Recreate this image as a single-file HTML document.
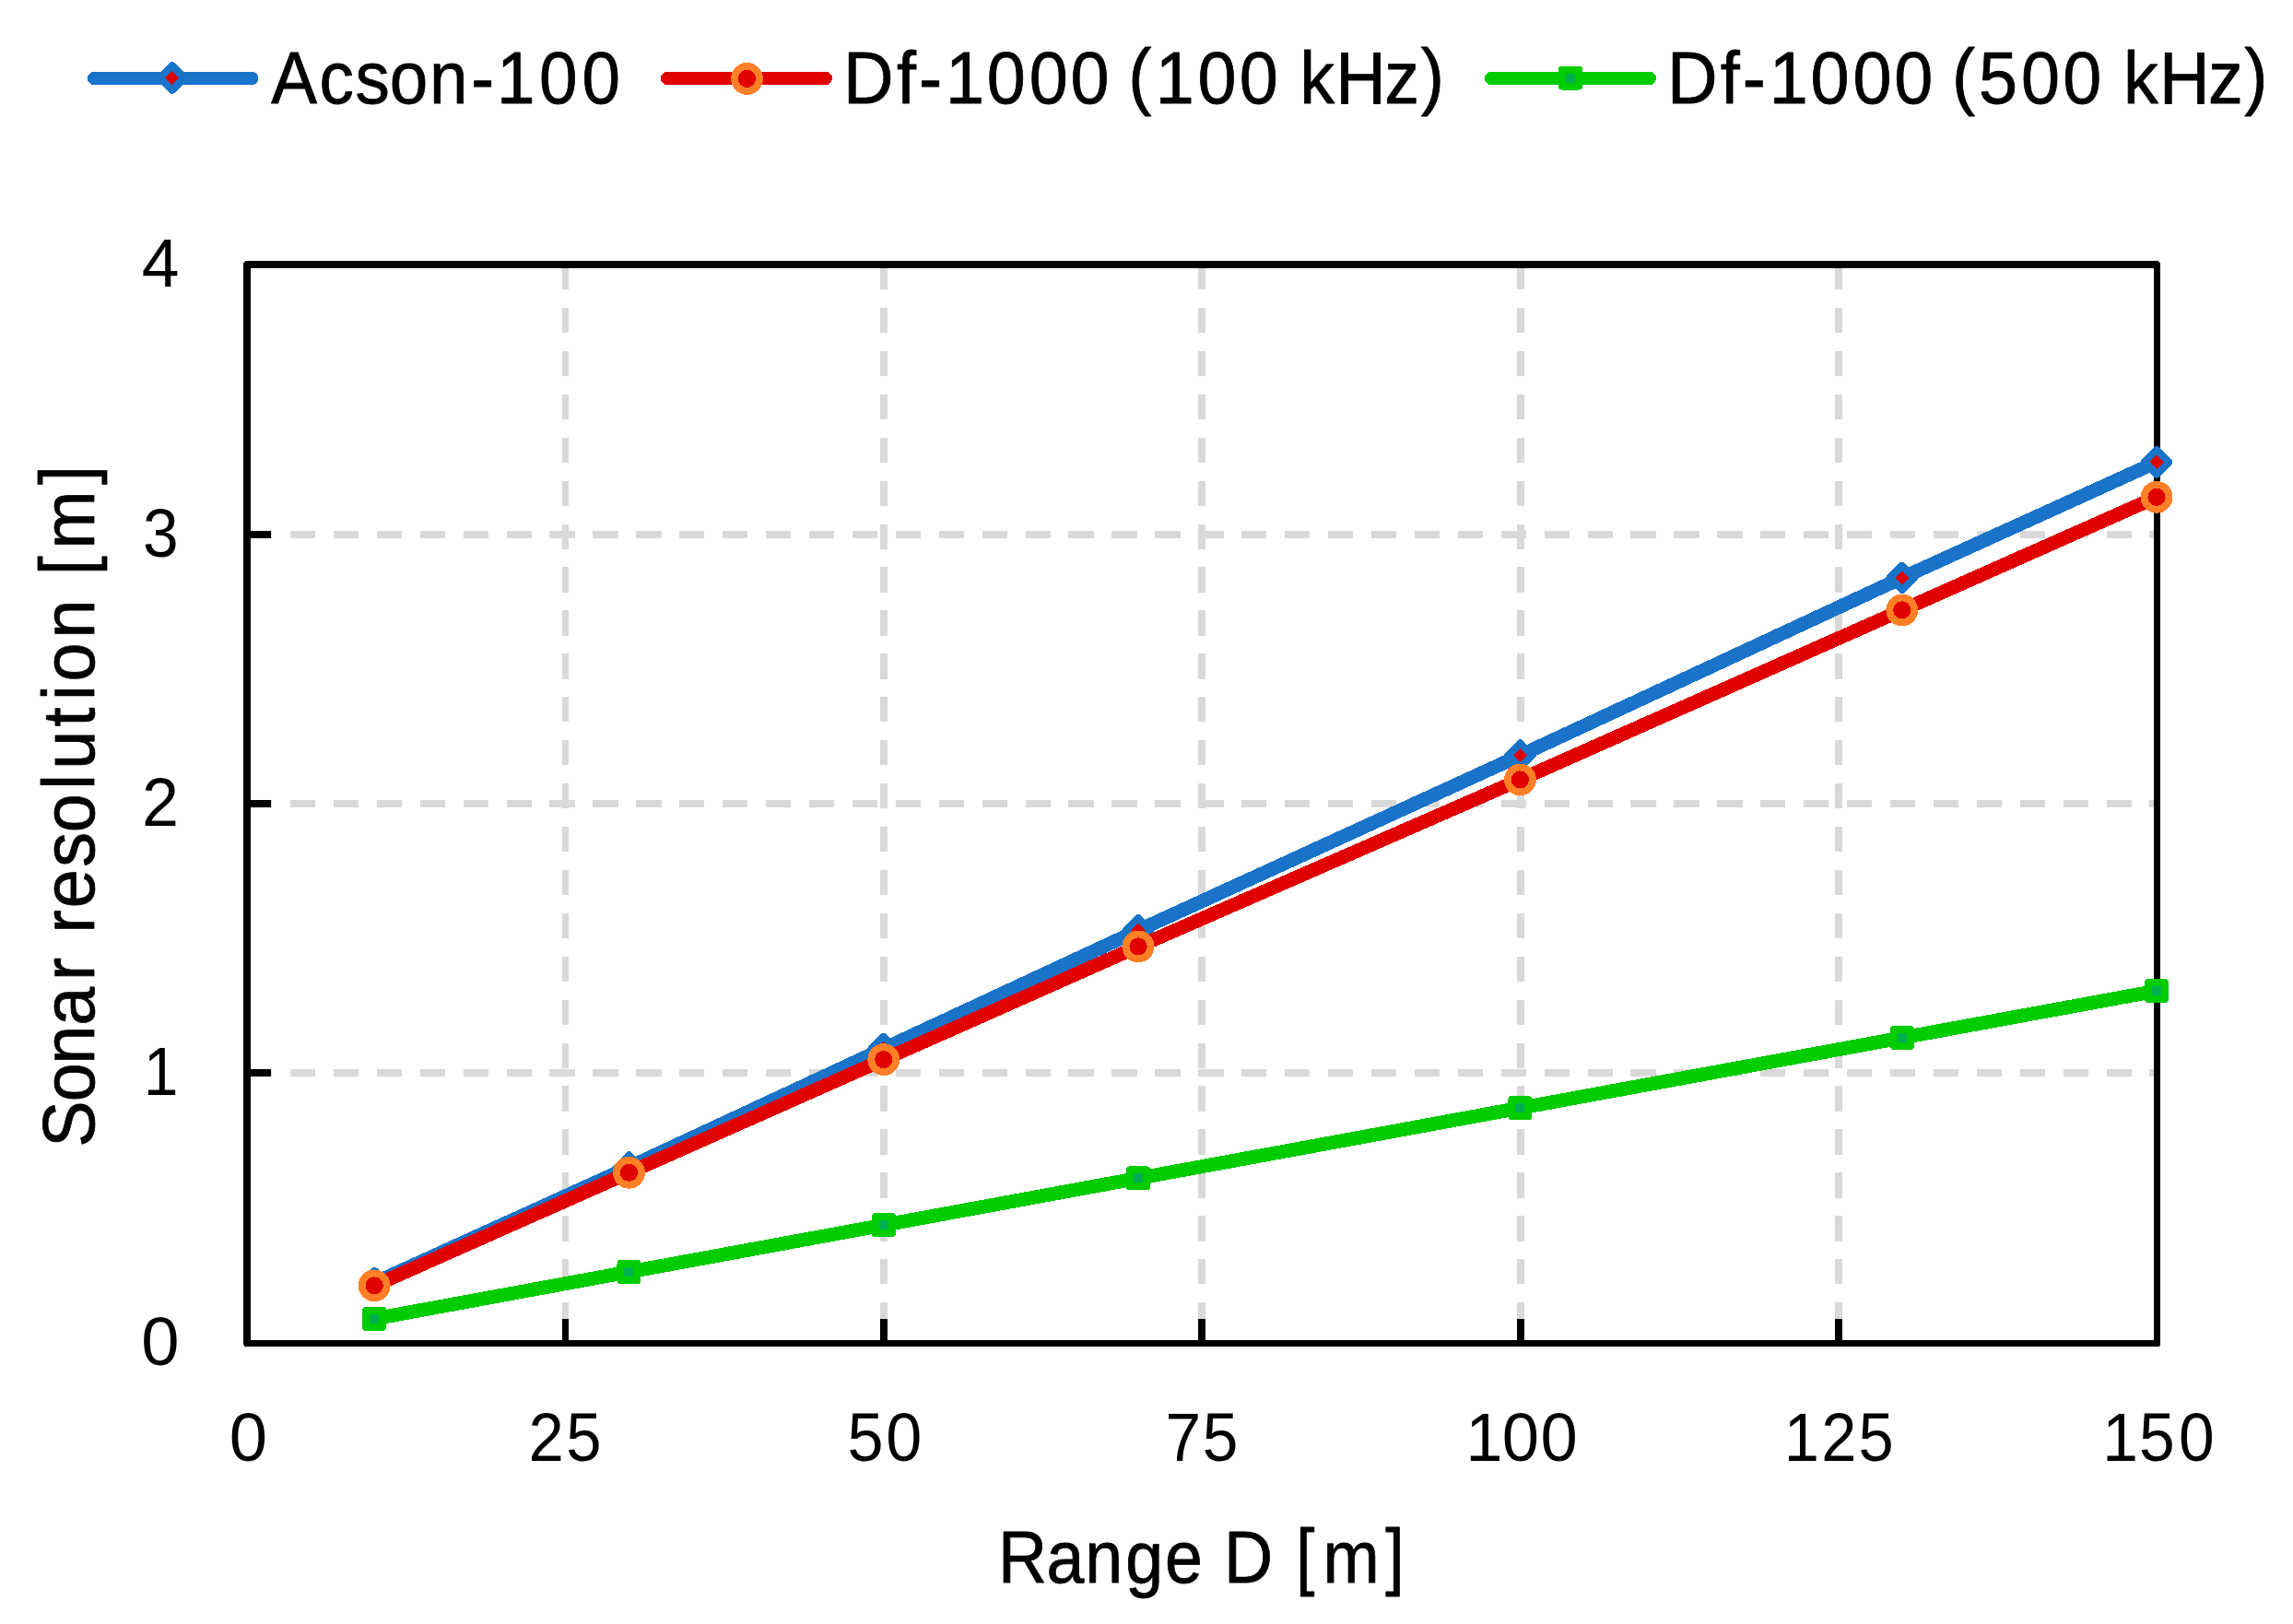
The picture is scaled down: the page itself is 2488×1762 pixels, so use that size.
<!DOCTYPE html>
<html lang="en"><head><meta charset="utf-8"><title>Sonar resolution vs range</title>
<style>html,body{margin:0;padding:0;background:#fff;}body{width:2488px;height:1762px;overflow:hidden;}svg{display:block;}text{font-family:"Liberation Sans",sans-serif;fill:#000;}</style></head><body>
<svg width="2488" height="1762" viewBox="0 0 2488 1762">
<rect x="0" y="0" width="2488" height="1762" fill="#ffffff"/>
<g stroke="#d9d9d9" stroke-dasharray="27.3 19.62" fill="none" shape-rendering="crispEdges">
<line x1="613.5" y1="287.00" x2="613.5" y2="1457.50" stroke-width="7"/>
<line x1="959.0" y1="287.00" x2="959.0" y2="1457.50" stroke-width="8"/>
<line x1="1304.0" y1="287.00" x2="1304.0" y2="1457.50" stroke-width="8"/>
<line x1="1650.0" y1="287.00" x2="1650.0" y2="1457.50" stroke-width="8"/>
<line x1="1995.0" y1="287.00" x2="1995.0" y2="1457.50" stroke-width="8"/>
<line x1="268.00" y1="580.0" x2="2340.50" y2="580.0" stroke-width="8"/>
<line x1="268.00" y1="872.0" x2="2340.50" y2="872.0" stroke-width="8"/>
<line x1="268.00" y1="1164.0" x2="2340.50" y2="1164.0" stroke-width="8"/>
</g>
<g fill="#000" shape-rendering="crispEdges">
<rect x="268" y="287" width="2072.5" height="1170.5" fill="none" stroke="#000" stroke-width="7.5" stroke-linejoin="round"/>
<rect x="610" y="1431" width="7" height="26"/>
<rect x="955" y="1431" width="8" height="26"/>
<rect x="1300" y="1431" width="8" height="26"/>
<rect x="1646" y="1431" width="8" height="26"/>
<rect x="1991" y="1431" width="8" height="26"/>
<rect x="268" y="576" width="26" height="8"/>
<rect x="268" y="868" width="26" height="8"/>
<rect x="268" y="1160" width="26" height="8"/>
</g>
<g shape-rendering="crispEdges">
<polyline points="406.23,1391.96 682.49,1266.40 958.75,1137.92 1235.01,1009.44 1649.40,819.64 2063.79,626.92 2340.05,501.36" fill="none" stroke="#1873c9" stroke-width="15" stroke-linejoin="round" stroke-linecap="round"/>
<path d="M406.23 1378.71 L419.48 1391.96 L406.23 1405.21 L392.98 1391.96Z" fill="#e00000" stroke="#1873c9" stroke-width="7.9" stroke-linejoin="round"/>
<path d="M682.49 1253.15 L695.74 1266.40 L682.49 1279.65 L669.24 1266.40Z" fill="#e00000" stroke="#1873c9" stroke-width="7.9" stroke-linejoin="round"/>
<path d="M958.75 1124.67 L972.00 1137.92 L958.75 1151.17 L945.50 1137.92Z" fill="#e00000" stroke="#1873c9" stroke-width="7.9" stroke-linejoin="round"/>
<path d="M1235.01 996.19 L1248.26 1009.44 L1235.01 1022.69 L1221.76 1009.44Z" fill="#e00000" stroke="#1873c9" stroke-width="7.9" stroke-linejoin="round"/>
<path d="M1649.40 806.39 L1662.65 819.64 L1649.40 832.89 L1636.15 819.64Z" fill="#e00000" stroke="#1873c9" stroke-width="7.9" stroke-linejoin="round"/>
<path d="M2063.79 613.67 L2077.04 626.92 L2063.79 640.17 L2050.54 626.92Z" fill="#e00000" stroke="#1873c9" stroke-width="7.9" stroke-linejoin="round"/>
<path d="M2340.05 488.11 L2353.30 501.36 L2340.05 514.61 L2326.80 501.36Z" fill="#e00000" stroke="#1873c9" stroke-width="7.9" stroke-linejoin="round"/>
</g>
<g shape-rendering="crispEdges">
<polyline points="406.23,1394.88 682.49,1272.24 958.75,1149.60 1235.01,1026.96 1649.40,845.92 2063.79,661.96 2340.05,539.32" fill="none" stroke="#e00000" stroke-width="15" stroke-linejoin="round" stroke-linecap="round"/>
<circle cx="406.23" cy="1394.88" r="13.5" fill="#e00000" stroke="#ff7f27" stroke-width="7.8"/>
<circle cx="682.49" cy="1272.24" r="13.5" fill="#e00000" stroke="#ff7f27" stroke-width="7.8"/>
<circle cx="958.75" cy="1149.60" r="13.5" fill="#e00000" stroke="#ff7f27" stroke-width="7.8"/>
<circle cx="1235.01" cy="1026.96" r="13.5" fill="#e00000" stroke="#ff7f27" stroke-width="7.8"/>
<circle cx="1649.40" cy="845.92" r="13.5" fill="#e00000" stroke="#ff7f27" stroke-width="7.8"/>
<circle cx="2063.79" cy="661.96" r="13.5" fill="#e00000" stroke="#ff7f27" stroke-width="7.8"/>
<circle cx="2340.05" cy="539.32" r="13.5" fill="#e00000" stroke="#ff7f27" stroke-width="7.8"/>
</g>
<g shape-rendering="crispEdges">
<polyline points="406.23,1430.80 682.49,1379.99 958.75,1329.18 1235.01,1278.37 1649.40,1202.16 2063.79,1125.95 2340.05,1075.14" fill="none" stroke="#00cc00" stroke-width="15" stroke-linejoin="round" stroke-linecap="round"/>
<rect x="397.23" y="1421.80" width="18.00" height="18.00" fill="#00b050" stroke="#00cc00" stroke-width="8" stroke-linejoin="round"/>
<rect x="673.49" y="1370.99" width="18.00" height="18.00" fill="#00b050" stroke="#00cc00" stroke-width="8" stroke-linejoin="round"/>
<rect x="949.75" y="1320.18" width="18.00" height="18.00" fill="#00b050" stroke="#00cc00" stroke-width="8" stroke-linejoin="round"/>
<rect x="1226.01" y="1269.37" width="18.00" height="18.00" fill="#00b050" stroke="#00cc00" stroke-width="8" stroke-linejoin="round"/>
<rect x="1640.40" y="1193.16" width="18.00" height="18.00" fill="#00b050" stroke="#00cc00" stroke-width="8" stroke-linejoin="round"/>
<rect x="2054.79" y="1116.95" width="18.00" height="18.00" fill="#00b050" stroke="#00cc00" stroke-width="8" stroke-linejoin="round"/>
<rect x="2331.05" y="1066.14" width="18.00" height="18.00" fill="#00b050" stroke="#00cc00" stroke-width="8" stroke-linejoin="round"/>
</g>
<g shape-rendering="crispEdges">
<line x1="102.00" y1="85.00" x2="273.50" y2="85.00" stroke="#1873c9" stroke-width="14" stroke-linecap="round"/>
<path d="M186.70 71.25 L199.95 84.50 L186.70 97.75 L173.45 84.50Z" fill="#e00000" stroke="#1873c9" stroke-width="7.9" stroke-linejoin="round"/>
<line x1="724.00" y1="85.00" x2="896.00" y2="85.00" stroke="#e00000" stroke-width="14" stroke-linecap="round"/>
<circle cx="810.50" cy="85.40" r="13.5" fill="#e00000" stroke="#ff7f27" stroke-width="7.8"/>
<line x1="1617.80" y1="85.00" x2="1790.00" y2="85.00" stroke="#00cc00" stroke-width="14" stroke-linecap="round"/>
<rect x="1695.00" y="75.50" width="18.00" height="18.00" fill="#00b050" stroke="#00cc00" stroke-width="8" stroke-linejoin="round"/>
</g>
<text transform="scale(0.9328 1)" x="315.5 371.5 413.4 453.3 499.5 548.0 577.9 627.2 676.9" y="112.0 112.0 112.0 112.0 112.0 112.0 112.0 112.0 112.0" font-size="80" stroke="#000" stroke-width="0.8" stroke-linejoin="round">Acson-100</text>
<text transform="scale(0.9444 1)" x="969.0 1030.2 1055.7 1086.3 1133.9 1182.4 1229.9 1274.4 1296.4 1327.5 1375.9 1423.8 1468.3 1493.4 1534.6 1590.7 1632.4" y="112.0 112.0 112.0 112.0 112.0 112.0 112.0 112.0 109.0 112.0 112.0 112.0 112.0 112.0 112.0 112.0 109.0" font-size="80" stroke="#000" stroke-width="0.8" stroke-linejoin="round">Df-1000 (100 kHz)</text>
<text transform="scale(0.9447 1)" x="1914.8 1976.0 2001.4 2032.0 2079.6 2128.1 2175.6 2220.1 2242.0 2272.7 2321.5 2369.4 2413.9 2438.9 2480.2 2536.2 2577.9" y="112.0 112.0 112.0 112.0 112.0 112.0 112.0 112.0 109.0 112.0 112.0 112.0 112.0 112.0 112.0 112.0 109.0" font-size="80" stroke="#000" stroke-width="0.8" stroke-linejoin="round">Df-1000 (500 kHz)</text>
<text transform="scale(1.0035 1)" x="248.0" y="1585.2" font-size="74" >0</text>
<text transform="scale(0.9310 1)" x="616.0 659.8" y="1585.2 1585.2" font-size="74" >25</text>
<text transform="scale(0.9494 1)" x="968.5 1012.5" y="1585.2 1585.2" font-size="74" >50</text>
<text transform="scale(0.9400 1)" x="1345.1 1388.0" y="1585.2 1585.2" font-size="74" >75</text>
<text transform="scale(0.9787 1)" x="1624.8 1665.3 1708.0" y="1585.2 1585.2 1585.2" font-size="74" >100</text>
<text transform="scale(0.9270 1)" x="2088.3 2132.0 2175.4" y="1585.2 1585.2 1585.2" font-size="74" >125</text>
<text transform="scale(0.9403 1)" x="2426.2 2468.5 2514.1" y="1585.2 1585.2 1585.2" font-size="74" >150</text>
<text transform="scale(1.0035 1)" x="152.7" y="1480.8" font-size="74" >0</text>
<text transform="scale(0.9180 1)" x="169.6" y="1188.4" font-size="74" >1</text>
<text transform="scale(0.9705 1)" x="158.7" y="896.0" font-size="74" >2</text>
<text transform="scale(0.9390 1)" x="165.1" y="603.6" font-size="74" >3</text>
<text transform="scale(0.9897 1)" x="155.3" y="311.2" font-size="74" >4</text>
<text transform="scale(0.9186 1)" x="1179.1 1236.1 1281.6 1329.6 1375.9 1420.4 1445.8 1503.6 1530.5 1562.7 1636.6" y="1717.5 1717.5 1717.5 1717.5 1717.5 1717.5 1717.5 1717.5 1714.9 1717.5 1714.9" font-size="80" stroke="#000" stroke-width="0.8" stroke-linejoin="round">Range D [m]</text>
<g transform="translate(102 1241.7) rotate(-90)"><text transform="scale(0.9440 1)" x="-3.2 49.3 92.1 136.6 188.2 214.8 242.7 271.6 318.7 358.6 407.8 431.2 480.2 510.4 532.1 581.9 626.4 654.0 684.5 758.2" y="0.0 0.0 0.0 0.0 0.0 0.0 0.0 0.0 0.0 0.0 0.0 0.0 0.0 0.0 0.0 0.0 0.0 -2.6 0.0 -2.6" font-size="80" stroke="#000" stroke-width="0.8" stroke-linejoin="round">Sonar resolution [m]</text></g>
</svg></body></html>
